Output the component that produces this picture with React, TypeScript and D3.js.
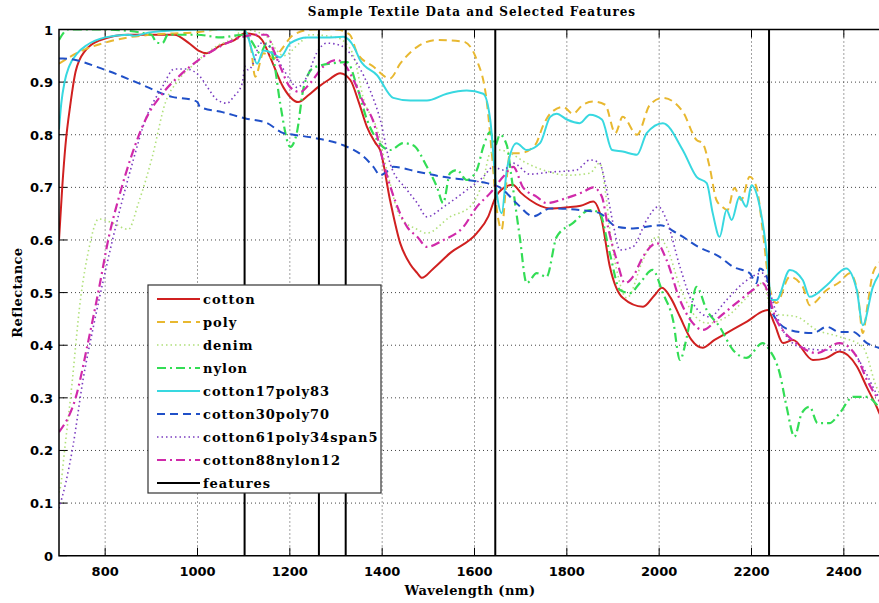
import React from 'react';
import * as d3 from 'd3';

type Pt = [number, number];

const cotton: Pt[] = [[700,0.60],[707,0.70],[714,0.78],[725,0.86],[736,0.92],[757,0.96],[790,0.98],[850,0.99],[950,0.99],[980,0.975],[1002,0.96],[1020,0.955],[1050,0.97],[1080,0.98],[1103,0.993],[1125,0.99],[1140,0.98],[1158,0.946],[1186,0.89],[1218,0.862],[1240,0.875],[1259,0.889],[1285,0.905],[1309,0.917],[1331,0.904],[1350,0.86],[1367,0.815],[1385,0.785],[1396,0.77],[1417,0.676],[1439,0.594],[1460,0.555],[1476,0.537],[1486,0.528],[1510,0.545],[1547,0.575],[1605,0.613],[1630,0.645],[1645,0.68],[1665,0.70],[1683,0.705],[1700,0.69],[1720,0.676],[1764,0.66],[1800,0.662],[1830,0.665],[1857,0.673],[1875,0.64],[1893,0.55],[1921,0.49],[1965,0.473],[1990,0.495],[2006,0.509],[2025,0.49],[2045,0.454],[2070,0.41],[2094,0.395],[2120,0.41],[2146,0.423],[2190,0.445],[2235,0.467],[2250,0.44],[2268,0.404],[2290,0.41],[2333,0.372],[2360,0.375],[2391,0.388],[2428,0.36],[2450,0.32],[2471,0.283],[2480,0.265],[2500,0.24]];

const poly: Pt[] = [[700,0.935],[750,0.96],[800,0.975],[850,0.985],[900,0.99],[1000,0.995],[1050,1.0],[1100,1.0],[1115,0.97],[1125,0.91],[1143,0.955],[1165,0.945],[1180,0.96],[1208,0.99],[1250,1.0],[1300,1.0],[1330,0.99],[1346,0.955],[1380,0.93],[1417,0.907],[1439,0.935],[1476,0.967],[1519,0.98],[1576,0.977],[1605,0.942],[1627,0.86],[1638,0.76],[1648,0.66],[1659,0.62],[1668,0.70],[1677,0.765],[1698,0.765],[1731,0.78],[1750,0.82],[1764,0.84],[1792,0.853],[1813,0.84],[1835,0.857],[1857,0.863],[1883,0.857],[1905,0.803],[1921,0.834],[1952,0.80],[1980,0.857],[2008,0.87],[2051,0.844],[2081,0.79],[2094,0.784],[2109,0.74],[2124,0.676],[2137,0.663],[2148,0.657],[2163,0.699],[2178,0.676],[2196,0.72],[2211,0.70],[2224,0.62],[2239,0.511],[2254,0.48],[2283,0.53],[2311,0.511],[2326,0.476],[2363,0.505],[2391,0.52],[2413,0.537],[2430,0.50],[2441,0.423],[2452,0.48],[2463,0.537],[2480,0.56],[2500,0.58]];

const denim: Pt[] = [[700,0.12],[703,0.13],[712,0.2],[725,0.30],[747,0.49],[764,0.58],[786,0.64],[822,0.63],[850,0.62],[872,0.67],[902,0.758],[930,0.86],[959,0.904],[995,0.936],[1039,0.967],[1080,0.985],[1100,1.0],[1130,0.995],[1151,0.986],[1172,0.96],[1186,0.95],[1222,0.975],[1244,0.99],[1300,0.985],[1320,0.975],[1340,0.945],[1359,0.87],[1389,0.81],[1411,0.73],[1439,0.644],[1476,0.62],[1497,0.613],[1547,0.644],[1590,0.663],[1619,0.714],[1634,0.765],[1655,0.771],[1677,0.765],[1713,0.746],[1760,0.73],[1800,0.723],[1850,0.727],[1871,0.746],[1885,0.682],[1893,0.62],[1908,0.543],[1930,0.49],[1965,0.562],[1995,0.606],[2016,0.587],[2045,0.511],[2073,0.461],[2103,0.442],[2146,0.454],[2189,0.49],[2224,0.518],[2246,0.46],[2298,0.454],[2341,0.429],[2391,0.416],[2441,0.397],[2471,0.32],[2500,0.28]];

const nylon: Pt[] = [[700,0.98],[720,1.0],[800,1.0],[900,0.99],[912,0.975],[924,0.974],[936,0.99],[1000,0.99],[1050,0.985],[1100,0.99],[1115,0.98],[1136,0.955],[1150,0.974],[1165,0.942],[1179,0.86],[1201,0.777],[1215,0.803],[1230,0.89],[1251,0.927],[1295,0.936],[1324,0.938],[1346,0.89],[1367,0.829],[1389,0.79],[1417,0.771],[1446,0.784],[1467,0.78],[1497,0.739],[1519,0.70],[1532,0.67],[1547,0.727],[1562,0.733],[1583,0.714],[1605,0.733],[1619,0.777],[1634,0.805],[1645,0.78],[1655,0.80],[1670,0.78],[1680,0.72],[1698,0.606],[1713,0.518],[1735,0.537],[1756,0.53],[1778,0.606],[1813,0.632],[1850,0.657],[1871,0.651],[1893,0.575],[1915,0.505],[1937,0.499],[1958,0.518],[1986,0.543],[2008,0.499],[2030,0.448],[2045,0.372],[2060,0.416],[2081,0.511],[2103,0.467],[2131,0.435],[2160,0.391],[2189,0.376],[2224,0.404],[2239,0.391],[2261,0.347],[2276,0.283],[2293,0.226],[2309,0.271],[2326,0.283],[2343,0.252],[2369,0.252],[2391,0.271],[2420,0.302],[2450,0.302],[2480,0.28],[2500,0.27]];

const cotton17poly83: Pt[] = [[700,0.81],[705,0.86],[712,0.9],[722,0.93],[740,0.955],[760,0.97],[800,0.985],[850,0.99],[862,0.988],[900,0.995],[1000,1.0],[1100,1.0],[1108,0.99],[1118,0.96],[1129,0.935],[1143,0.96],[1162,0.955],[1179,0.947],[1201,0.974],[1238,0.985],[1280,0.985],[1316,0.986],[1340,0.965],[1352,0.942],[1389,0.913],[1424,0.87],[1461,0.865],[1497,0.865],[1540,0.878],[1583,0.884],[1619,0.878],[1634,0.829],[1648,0.69],[1659,0.651],[1670,0.733],[1691,0.784],[1713,0.771],[1742,0.784],[1764,0.834],[1778,0.84],[1800,0.829],[1828,0.822],[1850,0.838],[1876,0.829],[1898,0.771],[1921,0.768],[1952,0.762],[1973,0.803],[2008,0.822],[2051,0.771],[2081,0.72],[2103,0.708],[2116,0.651],[2131,0.606],[2146,0.657],[2157,0.638],[2174,0.682],[2189,0.663],[2200,0.704],[2218,0.663],[2233,0.575],[2243,0.486],[2254,0.486],[2283,0.543],[2311,0.524],[2326,0.492],[2363,0.514],[2405,0.546],[2428,0.505],[2441,0.438],[2463,0.511],[2480,0.54],[2500,0.56]];

const cotton30poly70: Pt[] = [[700,0.945],[708,0.945],[801,0.923],[872,0.898],[945,0.872],[989,0.866],[1000,0.862],[1005,0.853],[1054,0.843],[1104,0.831],[1151,0.822],[1186,0.803],[1208,0.80],[1259,0.793],[1316,0.78],[1359,0.759],[1381,0.739],[1396,0.723],[1410,0.73],[1424,0.739],[1475,0.73],[1532,0.72],[1583,0.714],[1627,0.708],[1655,0.70],[1691,0.67],[1727,0.645],[1764,0.66],[1829,0.657],[1871,0.651],[1908,0.625],[1943,0.622],[2002,0.628],[2038,0.613],[2085,0.587],[2131,0.568],[2160,0.549],[2196,0.537],[2211,0.518],[2218,0.546],[2233,0.53],[2246,0.46],[2283,0.429],[2333,0.423],[2363,0.435],[2391,0.425],[2420,0.425],[2450,0.404],[2480,0.394],[2500,0.39]];

const cotton61poly34span5: Pt[] = [[700,0.09],[715,0.14],[730,0.207],[752,0.334],[773,0.429],[801,0.543],[830,0.651],[859,0.746],[887,0.828],[924,0.891],[950,0.925],[975,0.925],[1006,0.91],[1021,0.891],[1043,0.866],[1064,0.86],[1078,0.872],[1097,0.898],[1103,0.93],[1110,0.923],[1121,0.936],[1136,0.974],[1158,0.967],[1179,0.935],[1201,0.904],[1215,0.89],[1237,0.91],[1258,0.955],[1280,0.974],[1309,0.97],[1330,0.955],[1346,0.935],[1374,0.884],[1396,0.828],[1417,0.746],[1454,0.695],[1476,0.67],[1497,0.644],[1533,0.663],[1576,0.69],[1619,0.72],[1641,0.739],[1662,0.733],[1684,0.746],[1720,0.725],[1764,0.729],[1821,0.733],[1850,0.752],[1871,0.746],[1885,0.70],[1900,0.632],[1915,0.581],[1943,0.587],[1973,0.638],[1998,0.663],[2016,0.638],[2045,0.549],[2073,0.48],[2109,0.454],[2146,0.486],[2182,0.518],[2224,0.537],[2240,0.50],[2261,0.442],[2304,0.397],[2354,0.391],[2413,0.391],[2441,0.359],[2471,0.308],[2500,0.28]];

const cotton88nylon12: Pt[] = [[700,0.235],[736,0.30],[764,0.41],[786,0.505],[808,0.606],[830,0.682],[859,0.765],[887,0.828],[924,0.878],[967,0.917],[1002,0.942],[1054,0.97],[1097,0.986],[1129,0.99],[1150,0.99],[1165,0.96],[1179,0.93],[1201,0.89],[1222,0.881],[1244,0.898],[1273,0.93],[1302,0.942],[1316,0.936],[1338,0.904],[1360,0.86],[1381,0.825],[1403,0.746],[1425,0.682],[1454,0.625],[1476,0.606],[1497,0.587],[1533,0.60],[1576,0.625],[1605,0.663],[1634,0.689],[1662,0.72],[1684,0.739],[1705,0.70],[1735,0.682],[1756,0.67],[1800,0.68],[1835,0.691],[1857,0.70],[1876,0.682],[1889,0.625],[1908,0.562],[1926,0.518],[1943,0.53],[1965,0.568],[1995,0.594],[2016,0.562],[2045,0.486],[2073,0.442],[2094,0.429],[2131,0.454],[2167,0.48],[2203,0.505],[2224,0.518],[2254,0.448],[2297,0.404],[2341,0.385],[2391,0.404],[2428,0.378],[2450,0.334],[2471,0.302],[2500,0.27]];

const features = [1102, 1263, 1321, 1645, 2238];

const xTicks = [800, 1000, 1200, 1400, 1600, 1800, 2000, 2200, 2400];
const yTicks = [0, 0.1, 0.2, 0.3, 0.4, 0.5, 0.6, 0.7, 0.8, 0.9, 1];

const series = [
  { name: 'cotton', data: cotton, color: '#d02020', dash: '', w: 2 },
  { name: 'poly', data: poly, color: '#e8b830', dash: '8,5', w: 2 },
  { name: 'denim', data: denim, color: '#b0e07a', dash: '1.5,3', w: 1.6 },
  { name: 'nylon', data: nylon, color: '#33dd55', dash: '9,4,2,4', w: 2.2 },
  { name: 'cotton17poly83', data: cotton17poly83, color: '#38d8e0', dash: '', w: 2 },
  { name: 'cotton30poly70', data: cotton30poly70, color: '#2050c8', dash: '8,5', w: 2 },
  { name: 'cotton61poly34span5', data: cotton61poly34span5, color: '#7a3cc0', dash: '1.5,3', w: 1.6 },
  { name: 'cotton88nylon12', data: cotton88nylon12, color: '#d02aaa', dash: '9,4,2,4', w: 2.2 },
];

const W = 879;
const H = 603;
const L = 59, T = 29.5, B = 555.7, R = 890;

export default function App() {
  const x = d3.scaleLinear().domain([700, 2500]).range([L, R]);
  const y = d3.scaleLinear().domain([0, 1]).range([B, T]);
  const line = d3
    .line<Pt>()
    .x((d) => x(d[0]))
    .y((d) => y(d[1]))
    .curve(d3.curveMonotoneX);

  const tickFont = { fontFamily: 'DejaVu Sans', fontWeight: 'bold' as const, fontSize: 13 };
  const serif = { fontFamily: 'DejaVu Serif', fontWeight: 'bold' as const, fontSize: 13 };

  const legX = 148, legY = 285, legW = 233, legH = 208;

  return (
    <svg width={W} height={H} style={{ position: 'absolute', left: 0, top: 0, background: '#fff' }}>
      <defs>
        <clipPath id="plot">
          <rect x={L} y={T} width={R - L} height={B - T} />
        </clipPath>
      </defs>
      <rect x={0} y={0} width={W} height={H} fill="#fff" />

      {/* grid */}
      <g stroke="#444" strokeWidth={1} strokeDasharray="1,3">
        {xTicks.map((t) => (
          <line key={'gx' + t} x1={x(t)} x2={x(t)} y1={T} y2={B} />
        ))}
        {yTicks.slice(1, -1).map((t) => (
          <line key={'gy' + t} x1={L} x2={R} y1={y(t)} y2={y(t)} />
        ))}
      </g>

      {/* ticks */}
      <g stroke="#000" strokeWidth={1}>
        {xTicks.map((t) => (
          <g key={'tx' + t}>
            <line x1={x(t)} x2={x(t)} y1={B} y2={B - 8} />
            <line x1={x(t)} x2={x(t)} y1={T} y2={T + 8} />
          </g>
        ))}
        {yTicks.map((t) => (
          <line key={'ty' + t} x1={L} x2={L + 8} y1={y(t)} y2={y(t)} />
        ))}
      </g>

      {/* series */}
      <g clipPath="url(#plot)" fill="none">
        {series.map((s) => (
          <path
            key={s.name}
            d={line(s.data) || ''}
            stroke={s.color}
            strokeWidth={s.w}
            strokeDasharray={s.dash || undefined}
            strokeLinejoin="round"
          />
        ))}
        {features.map((f) => (
          <line key={'f' + f} x1={x(f)} x2={x(f)} y1={T} y2={B} stroke="#000" strokeWidth={2} />
        ))}
      </g>

      {/* axes box */}
      <path d={`M${R},${T}H${L}V${B}H${R}`} fill="none" stroke="#000" strokeWidth={1.5} />

      {/* tick labels */}
      {xTicks.map((t) => (
        <text key={'lx' + t} x={x(t)} y={576} textAnchor="middle" {...tickFont}>
          {t}
        </text>
      ))}
      {yTicks.map((t) => (
        <text key={'ly' + t} x={53} y={y(t) + 5} textAnchor="end" {...tickFont}>
          {t === 0 || t === 1 ? String(t) : t.toFixed(1)}
        </text>
      ))}

      <text x={472} y={16} textAnchor="middle" {...serif} fontSize={12} letterSpacing={1}>
        Sample Textile Data and Selected Features
      </text>
      <text x={470} y={595} textAnchor="middle" {...serif} letterSpacing={0.4}>
        Wavelength (nm)
      </text>
      <text transform={`translate(22,${(T + B) / 2}) rotate(-90)`} textAnchor="middle" {...serif} letterSpacing={0.4}>
        Reflectance
      </text>

      {/* legend */}
      <g>
        <rect x={legX} y={legY} width={legW} height={legH} fill="#fff" stroke="#333" strokeWidth={1.2} />
        {[...series, { name: 'features', color: '#000', dash: '', w: 2 }].map((s, i) => {
          const ly = legY + 14 + i * 23;
          return (
            <g key={'leg' + s.name}>
              <line
                x1={157}
                x2={200}
                y1={ly}
                y2={ly}
                stroke={s.color}
                strokeWidth={s.w}
                strokeDasharray={s.dash || undefined}
              />
              <text x={203} y={ly + 5} {...serif} letterSpacing={1}>
                {s.name}
              </text>
            </g>
          );
        })}
      </g>
    </svg>
  );
}
